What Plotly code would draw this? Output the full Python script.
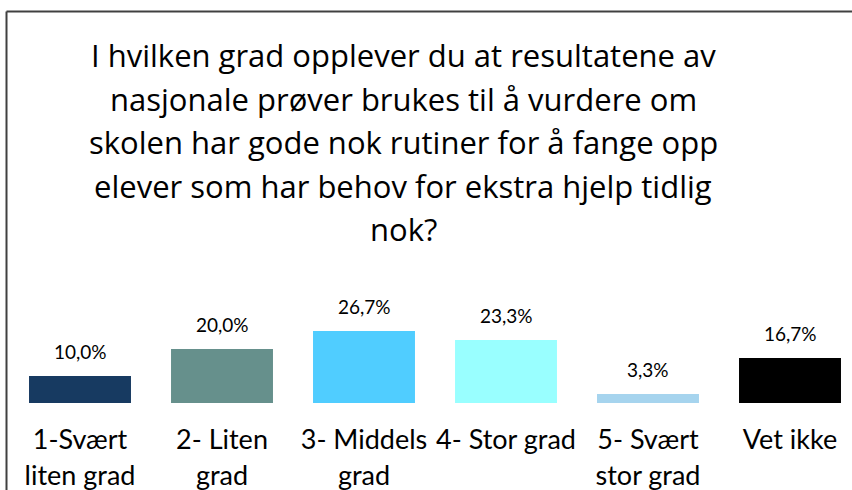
import plotly.graph_objects as go

categories = ["1-Svært<br>liten grad", "2- Liten<br>grad", "3- Middels<br>grad",
              "4- Stor grad", "5- Svært<br>stor grad", "Vet ikke"]
values = [10.0, 20.0, 26.7, 23.3, 3.3, 16.7]
labels = ["10,0%", "20,0%", "26,7%", "23,3%", "3,3%", "16,7%"]
colors = ["#173A61", "#66908C", "#50CDFF", "#99FFFF", "#A6D4EE", "#000000"]
title_lines = [
    "I hvilken grad opplever du at resultatene av",
    "nasjonale prøver brukes til å vurdere om",
    "skolen har gode nok rutiner for å fange opp",
    "elever som har behov for ekstra hjelp tidlig",
    "nok?",
]

FONT = "Lato"
TITLE_FONT = "Open Sans"
W, H = 852, 490
ML, MR, MT, MB = 9, 0, 5, 87
plot_h = H - MT - MB
plot_w = W - ML - MR
px_per_unit = 2.7

fig = go.Figure()
fig.add_trace(go.Bar(
    x=list(range(len(categories))), y=values,
    marker=dict(color=colors, line=dict(width=0)),
    hoverinfo="skip",
))

for i, (v, t) in enumerate(zip(values, labels)):
    fig.add_annotation(x=i, y=v, xref="x", yref="y", text=t, showarrow=False,
                       yanchor="bottom", yshift=11,
                       font=dict(family=FONT, size=19, color="#000000"))

def paper_y(py):
    return (H - MB - py) / plot_h

def paper_x(px):
    return (px - ML) / plot_w

title_centers = [55, 99, 142, 186, 229]
for line, cy in zip(title_lines, title_centers):
    fig.add_annotation(x=paper_x(403), y=paper_y(cy), xref="paper", yref="paper",
                       xanchor="center", yanchor="middle", text=line,
                       showarrow=False,
                       font=dict(family=TITLE_FONT, size=31, color="#000000"))

# chart border (top and left edges visible)
fig.add_shape(type="line", xref="paper", yref="paper",
              x0=paper_x(6.5), x1=1.2,
              y0=paper_y(11.5), y1=paper_y(11.5),
              line=dict(color="#404040", width=2))
fig.add_shape(type="line", xref="paper", yref="paper",
              x0=paper_x(6.5), x1=paper_x(6.5),
              y0=paper_y(11.5), y1=paper_y(H + 5),
              line=dict(color="#404040", width=2))

fig.update_layout(
    width=W, height=H,
    margin=dict(l=ML, r=MR, t=MT, b=MB, pad=0),
    paper_bgcolor="white", plot_bgcolor="white",
    showlegend=False, bargap=0.282,
    xaxis=dict(
        range=[-0.5, -0.5 + plot_w / 142.0],
        tickmode="array", tickvals=list(range(len(categories))), ticktext=categories,
        tickfont=dict(family=FONT, size=27, color="#000000"),
        ticks="outside", ticklen=13, tickcolor="rgba(0,0,0,0)",
        showgrid=False, zeroline=False, showline=False, fixedrange=True,
    ),
    yaxis=dict(
        range=[0, plot_h / px_per_unit], visible=False, fixedrange=True,
    ),
)

fig.write_html("out.html", config={"displayModeBar": False},
               post_script="document.body.style.margin='0';document.body.style.overflow='hidden';")
